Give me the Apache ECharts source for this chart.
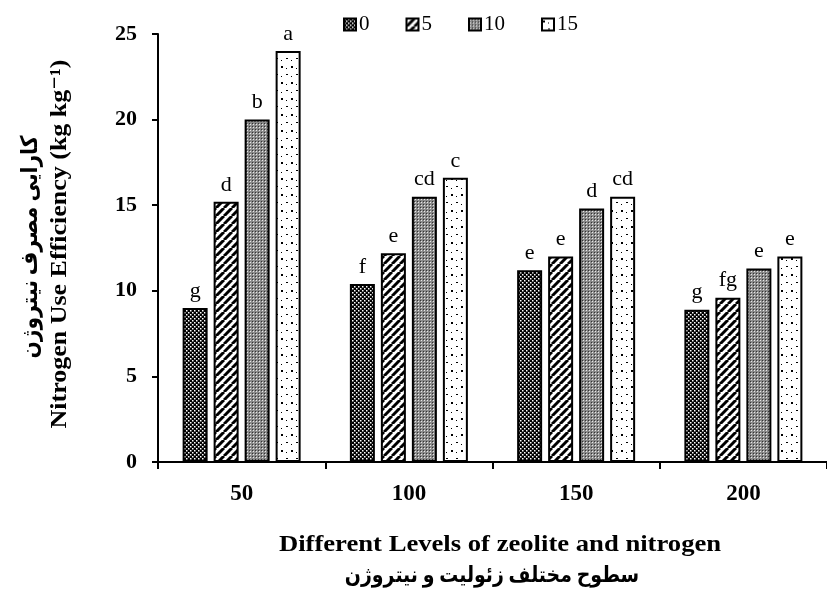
<!DOCTYPE html>
<html><head><meta charset="utf-8">
<script src="https://cdn.jsdelivr.net/npm/echarts@6/dist/echarts.min.js"></script>
<style>html,body{margin:0;padding:0;background:#fff}#c{width:827px;height:592px}</style>
</head><body><div id="c"></div>
<script>
const categories = ['50', '100', '150', '200'];
const seriesNames = ['0', '5', '10', '15'];
const values0 = [9.0, 10.4, 11.2, 8.9];
const values5 = [15.2, 12.2, 12.0, 9.6];
const values10 = [20.0, 15.5, 14.8, 11.3];
const values15 = [24.0, 16.6, 15.5, 12.0];
const letters0 = ['g', 'f', 'e', 'g'];
const letters5 = ['d', 'e', 'e', 'fg'];
const letters10 = ['b', 'cd', 'd', 'e'];
const letters15 = ['a', 'c', 'cd', 'e'];
const yTicks = [0, 5, 10, 15, 20, 25];

function mk(w, h, draw) {
  const c = document.createElement('canvas');
  c.width = w; c.height = h;
  const g = c.getContext('2d');
  draw(g);
  return c;
}
const pat0 = mk(4, 4, g => { g.fillStyle = '#000'; g.fillRect(0,0,4,4); g.fillStyle = '#fff'; g.fillRect(0,0,1.5,1.5); g.fillRect(2,2,1.5,1.5); });
const pat5 = mk(8, 8, g => { g.fillStyle = '#fff'; g.fillRect(0,0,8,8); g.strokeStyle = '#000'; g.lineWidth = 3;
  for (let k = -8; k <= 16; k += 8) { g.beginPath(); g.moveTo(k, 8); g.lineTo(k + 8, 0); g.stroke(); } });
const pat10 = mk(3, 3, g => { g.fillStyle = '#8a8a8a'; g.fillRect(0,0,3,3); g.fillStyle = '#333'; g.fillRect(0,0,1,1); g.fillStyle = '#e8e8e8'; g.fillRect(1,1,1,1); });
const pat15 = mk(10, 16, g => { g.fillStyle = '#fff'; g.fillRect(0,0,10,16); g.fillStyle = '#000'; g.fillRect(1,2,2,2); g.fillRect(6,10,2,1); g.fillRect(6,4,1,1); g.fillRect(1,12,1,1); });
const pats = [pat0, pat5, pat10, pat15];
const vals = [values0, values5, values10, values15];
const lets = [letters0, letters5, letters10, letters15];

const serif = '"Liberation Serif", "Times New Roman", "DejaVu Sans", serif';
const chart = echarts.init(document.getElementById('c'));
chart.setOption({
  animation: false,
  backgroundColor: '#fff',
  legend: {
    top: 9, left: 338, itemWidth: 12, itemHeight: 12, itemGap: 36,
    textStyle: { fontFamily: serif, fontSize: 21, color: '#000', padding: [0,0,0,-2] },
    data: seriesNames.map(n => ({ name: n, icon: 'rect' }))
  },
  grid: { left: 158, right: -4, top: 34, bottom: 130, containLabel: false },
  xAxis: {
    type: 'category', data: categories,
    axisLine: { lineStyle: { color: '#000', width: 2 } },
    axisTick: { show: true, length: 7, lineStyle: { color: '#000', width: 2 } },
    axisLabel: { fontFamily: serif, fontWeight: 'bold', fontSize: 23, color: '#000', margin: 21 }
  },
  yAxis: {
    type: 'value', min: 0, max: 25, interval: 5,
    axisLine: { show: true, lineStyle: { color: '#000', width: 2 } },
    axisTick: { show: true, length: 6, lineStyle: { color: '#000', width: 2 } },
    splitLine: { show: false },
    axisLabel: { fontFamily: serif, fontWeight: 'bold', fontSize: 22, color: '#000', margin: 21,
      formatter: v => yTicks.includes(v) ? String(v) : '' }
  },
  series: seriesNames.map((n, i) => ({
    name: n, type: 'bar', data: vals[i], barWidth: 25, barGap: '24%',
    itemStyle: { color: { image: pats[i], repeat: 'repeat' }, borderColor: '#000', borderWidth: 2 },
    label: { show: true, position: 'top', distance: 6, fontFamily: serif, fontSize: 22, color: '#000',
      formatter: p => lets[i][p.dataIndex] }
  })),
  graphic: [
    { type: 'text', x: 60, y: 244, rotation: Math.PI / 2, scaleX: 1.13, style: { text: 'Nitrogen Use Efficiency (kg kg⁻¹)', font: 'bold 23px ' + serif, fill: '#000', align: 'center', verticalAlign: 'middle' } },
    { type: 'text', x: 31, y: 247, rotation: Math.PI / 2, scaleX: 0.88, style: { text: 'کارایی مصرف نیتروژن', font: 'bold 23px ' + serif, fill: '#000', align: 'center', verticalAlign: 'middle' } },
    { type: 'text', x: 500, y: 545, scaleX: 1.11, style: { text: 'Different Levels of zeolite and nitrogen', font: 'bold 24px ' + serif, fill: '#000', align: 'center', verticalAlign: 'middle' } },
    { type: 'text', x: 492, y: 576, scaleX: 0.86, style: { text: 'سطوح مختلف زئولیت و نیتروژن', font: 'bold 22px ' + serif, fill: '#000', align: 'center', verticalAlign: 'middle' } }
  ]
});
</script></body></html>
